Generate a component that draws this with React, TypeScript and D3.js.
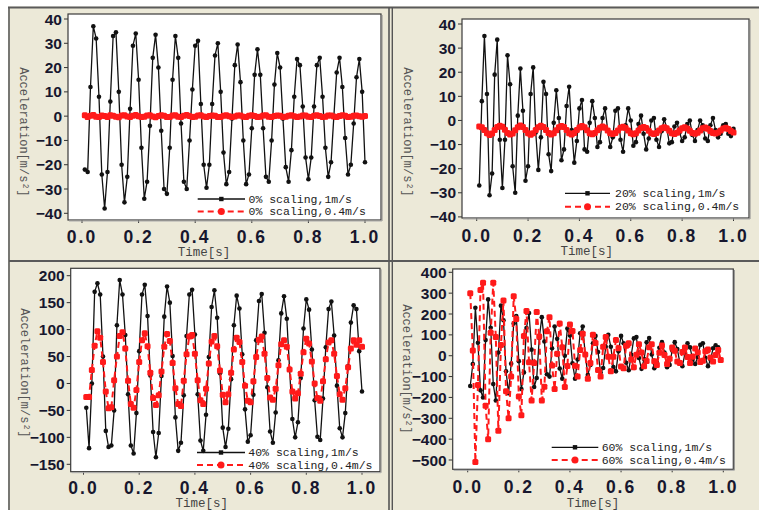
import React from 'react';
import * as d3 from 'd3';

// ---------- data (sampled every 0.01 s, first sample at t = 0.01 s) ----------
const P1_BLACK = [
  -22, -23, 12, 37, 32, 8, -24, -38, -23, 6,
  33, 34.5, 10, -20, -35.5, -25, 3, 29, 34, 15,
  -13, -34, -27, -4, 24, 33.5, 20, -6, -30, -32,
  -13, 15, 33, 24, -3, -27, -30, -10, 11, 29,
  31, 5, -20, -29.5, -20, 5, 25, 30, 10, -15,
  -28, -23, -1, 21, 29.5, 14, -10, -28, -24, -5,
  17, 27.5, 17, -5, -25, -27, -10, 13, 26, 20,
  -1, -21, -27, -14, 8, 23.5, 21, 4, -17, -26,
  -17, 4, 21, 24, 8, -13, -25, -19, 0, 18,
  24, 12, -9, -24, -20, -3, 16, 23.5, 10, -19,
];
const P1_RED = [
  0.4, -0.3, 0.2, 0.5, -0.2, -0.4, 0.3, 0.1, -0.3, 0.4,
  0.2, -0.2, -0.5, 0.3, 0.4, -0.1, -0.3, 0.2, 0.5, 0,
  -0.4, -0.2, 0.3, 0.4, -0.1, -0.5, 0.1, 0.4, 0.2, -0.3,
  -0.3, 0.3, 0.4, -0.2, -0.4, 0.2, 0.5, 0.1, -0.3, -0.2,
  0.3, 0.4, -0.1, -0.4, 0.1, 0.3, 0.2, -0.3, -0.3, 0.2,
  0.4, 0, -0.4, -0.1, 0.3, 0.3, -0.2, -0.4, 0.2, 0.4,
  0.1, -0.3, -0.2, 0.3, 0.4, -0.2, -0.3, 0.1, 0.3, 0.2,
  -0.3, -0.2, 0.2, 0.4, 0, -0.4, -0.1, 0.3, 0.3, -0.2,
  -0.3, 0.2, 0.4, 0.1, -0.3, -0.2, 0.3, 0.3, -0.1, -0.4,
  0.1, 0.4, 0.2, -0.3, -0.2, 0.2, 0.3, 0, -0.2, 0.1,
];
const P2_BLACK = [
  -27, 8, 35, 11, -31, -22, 19, 33.5, -8, -28,
  -8, 27, 15, -19, -30, 2, 21.5, 4, -25, -19,
  11, 22, -5, -20.5, -7, 16, 11, -14, -21, -1,
  12.5, 1, -16.5, -12, 6, 14, -4, -17.5, -8.5, 5,
  8.5, -12, -13, -1, 8, 1, -11, -9, 1, 5,
  -4, -11, -7, 4, 5, -8, -13, -2, 5, 0,
  -10.5, -9, -1.5, 2, -5.5, -12, -7.5, 0, 1, -8,
  -11, -4.5, 0.5, -3, -9.5, -9, -2.5, -1, -5, -8.5,
  -7, -1.5, 0, -6, -8.5, -4, 0, -2, -7.5, -8.5,
  -2, 1, -4, -7, -5.5, -2, -1.5, -5.5, -6.5, -3.5,
];
const P2_RED = [
  -2.5, -2.8, -4, -5.3, -6, -5.4, -4, -2.7, -2.2, -2.6,
  -3.9, -5.2, -5.8, -5.4, -4.1, -2.8, -2.1, -2.7, -4, -5.3,
  -5.9, -5.3, -4, -2.8, -2.2, -2.7, -4, -5.2, -5.8, -5.3,
  -4.1, -2.8, -2.3, -2.7, -4, -5.3, -5.8, -5.2, -4, -2.9,
  -2.3, -2.8, -4.1, -5.3, -5.7, -5.2, -4.1, -3, -2.5, -3,
  -4.2, -5.3, -5.6, -5.2, -4.2, -3, -2.6, -3.1, -4.2, -5.3,
  -5.7, -5.3, -4.2, -3.1, -2.7, -3.1, -4.3, -5.3, -5.6, -5.2,
  -4.2, -3.2, -2.8, -3.2, -4.3, -5.3, -5.6, -5.1, -4.2, -3.2,
  -2.8, -3.3, -4.3, -5.2, -5.5, -5.1, -4.2, -3.2, -2.9, -3.4,
  -4.4, -5.2, -5.4, -5, -4.2, -3.3, -3, -3.5, -4.4, -5,
];
const P3_BLACK = [
  -45, -120, 0, 170, 186, 165, 50, -88, -118, -115,
  -50, 108, 192, 165, 90, -20, -115, -130, -55, 60,
  165, 183, 125, 15, -90, -137, -92, 14, 124, 180,
  150, 51, -63, -125, -110, -22, 88, 165, 174, 91,
  -20, -106, -125, -58, 49, 142, 173, 122, 19, -82,
  -118, -84, 8, 108, 163, 139, 54, -48, -108, -96,
  -21, 80, 153, 166, 94, -7, -89, -110, -54, 43,
  130, 162, 120, 27, -66, -100, -72, 10, 102, 156,
  137, 63, -31, -99, -105, -28, 67, 138, 152, 89,
  -4, -83, -100, -55, 32, 113, 145, 138, 60, -15,
];
const P3_RED = [
  -25, -25, 25, 70, 97, 85, 40, -15, -46, -44,
  6, 50, 88, 95, 65, 5, -38, -45, -12, 40,
  80, 93, 69, 20, -27, -40, -22, 22, 68, 92,
  79, 38, -9, -38, -42, 5, 54, 87, 90, 55,
  6, -31, -38, -10, 37, 78, 88, 69, 24, -21,
  -35, -20, 20, 63, 85, 77, 40, -4, -32, -35,
  4, 49, 81, 87, 55, 10, -26, -30, -10, 34,
  73, 80, 68, 26, -15, -28, -18, 18, 58, 83,
  74, 41, 0, -27, -32, 4, 45, 76, 80, 55,
  14, -20, -30, -9, 30, 65, 80, 72, 80, 68,
];
const P4_BLACK = [
  -145, -40, 230, 62, -166, -200, 75, 270, 134, -136,
  -215, 15, 240, 170, -75, -180, -38, 155, 190, -26,
  -160, -80, 133, 205, 29, -150, -107, 85, 185, 68,
  -89, -100, 36, 140, 81, -61, -110, 0, 130, 97,
  -36, -110, -18, 108, 140, 4, -92, -44, 60, 95,
  18, -80, -59, 43, 100, 43, -54, -75, 21, 95,
  60, -34, -70, 4, 83, 90, -11, -63, -16, 64,
  85, 6, -60, -32, 38, 65, 15, -55, -44, 25,
  65, 32, -33, -50, 11, 60, 40, -18, -40, -6,
  52, 60, -10, -50, -19, 36, 50, 40,
];
const P4_RED = [
  300, 25, -510, -140, 315, 350, -240, -400, 110, 350,
  90, -360, 51, 265, -170, -300, -100, 285, 176, -195,
  -285, 94, 215, -31, -215, -35, 210, 92, -215, -149,
  117, 185, -47, -160, 9, 155, 41, -150, -49, 150,
  119, -48, -100, 27, 105, 6, -110, -35, 100, 61,
  -69, -100, 43, 90, -5, -75, -5, 75, 36, -52,
  -60, 48, 60, -18, -55, 5, 55, 16, -50, -25,
  41, 55, -26, -45, 14, 49, 4, -40, -14, 40,
  24, -28, -35, 18, 40, -6, -35, -5, 35, 15,
  -30, -24, 22, 30, -8, -28, 4, 28, -20,
];

const X_TICKS = [0, 0.2, 0.4, 0.6, 0.8, 1.0];
const X_TICK_LABELS = ['0.0', '0.2', '0.4', '0.6', '0.8', '1.0'];
const P1_Y_TICKS = [-40, -30, -20, -10, 0, 10, 20, 30, 40];
const P2_Y_TICKS = [-40, -30, -20, -10, 0, 10, 20, 30, 40];
const P3_Y_TICKS = [-150, -100, -50, 0, 50, 100, 150, 200];
const P4_Y_TICKS = [-500, -400, -300, -200, -100, 0, 100, 200, 300, 400];
const LEGEND_P1 = ['0% scaling,1m/s', '0% scaling,0.4m/s'];
const LEGEND_P2 = ['20% scaling,1m/s', '20% scaling,0.4m/s'];
const LEGEND_P3 = ['40% scaling,1m/s', '40% scaling,0.4m/s'];
const LEGEND_P4 = ['60% scaling,1m/s', '60% scaling,0.4m/s'];
const Y_TITLE = 'Acceleration[m/s²]';
const X_TITLE = 'Time[s]';

const timeOf = (i: number) => (i + 1) / 100;

// ---------- layout ----------
const PANELS = [
  {
    box: [68, 14, 381, 220], xr: [82, 365], yd: [-40, 40], yr: [213.3, 19],
    yTicks: P1_Y_TICKS, black: P1_BLACK, red: P1_RED, legend: LEGEND_P1,
    xLabelBase: 242.5, yTitle: [24, 132], xTitle: [204, 256],
    leg: { x0: 197.7, x1: 245, tx: 248.5, y1: 199, y2: 211.5 },
  },
  {
    box: [462, 19, 749, 218], xr: [476.7, 733.5], yd: [-40, 40], yr: [216.9, 24],
    yTicks: P2_Y_TICKS, black: P2_BLACK, red: P2_RED, legend: LEGEND_P2,
    xLabelBase: 242, yTitle: [408, 132], xTitle: [586.7, 254.5],
    leg: { x0: 565, x1: 610, tx: 615, y1: 193.3, y2: 206.7 },
  },
  {
    box: [70.7, 268.3, 380, 471.7], xr: [83.5, 362], yd: [-150, 200], yr: [464.3, 275.7],
    yTicks: P3_Y_TICKS, black: P3_BLACK, red: P3_RED, legend: LEGEND_P3,
    xLabelBase: 494, yTitle: [25, 373], xTitle: [201.7, 506.5],
    leg: { x0: 197, x1: 245, tx: 248.3, y1: 452.5, y2: 465 },
  },
  {
    box: [452.7, 269, 733.3, 469.3], xr: [467.7, 723.3], yd: [-500, 400], yr: [460, 272.3],
    yTicks: P4_Y_TICKS, black: P4_BLACK, red: P4_RED, legend: LEGEND_P4,
    xLabelBase: 493, yTitle: [407, 369], xTitle: [593, 506.5],
    leg: { x0: 551.7, x1: 598.3, tx: 601.7, y1: 447.3, y2: 460 },
  },
];

const TICK_FONT = "'Liberation Sans', Arial, sans-serif";
const MONO_FONT = "'Liberation Mono', 'DejaVu Sans Mono', monospace";
const TICK_COLOR = '#17172e';
const RED = '#ff1a1a';

function fmt(v: number) {
  return v < 0 ? '\u2212' + Math.abs(v) : String(v);
}

function Panel({ p }: { p: any }) {
  const [bx0, by0, bx1, by1] = p.box;
  const x = d3.scaleLinear().domain([0, 1]).range(p.xr);
  const y = d3.scaleLinear().domain(p.yd).range(p.yr);
  const line = d3
    .line<number>()
    .x((_, i) => x(timeOf(i)))
    .y((d) => y(d));
  const rs = 6;
  return (
    <g>
      <rect x={bx0} y={by0} width={bx1 - bx0} height={by1 - by0} fill="#fff" />
      {/* y ticks */}
      {p.yTicks.map((v: number) => (
        <g key={'y' + v}>
          <line x1={bx0 - 4} x2={bx0} y1={y(v)} y2={y(v)} stroke="#333" strokeWidth={1} />
          <text
            x={bx0 - 6}
            y={y(v)}
            dy="0.36em"
            textAnchor="end"
            fontFamily={TICK_FONT}
            fontWeight="bold"
            fontSize={15.5}
            fill={TICK_COLOR}
          >
            {fmt(v)}
          </text>
        </g>
      ))}
      {/* x ticks */}
      {X_TICKS.map((v, i) => (
        <g key={'x' + v}>
          <line x1={x(v)} x2={x(v)} y1={by1} y2={by1 + 3} stroke="#333" strokeWidth={1} />
          <text
            x={x(v)}
            y={p.xLabelBase}
            textAnchor="middle"
            fontFamily={TICK_FONT}
            fontWeight="bold"
            fontSize={17.5}
            letterSpacing={2}
            fill={TICK_COLOR}
          >
            {X_TICK_LABELS[i]}
          </text>
        </g>
      ))}
      {/* black series */}
      <path d={line(p.black) || ''} fill="none" stroke="#111" strokeWidth={1.3} />
      {p.black.map((d: number, i: number) => (
        <circle key={'b' + i} cx={x(timeOf(i))} cy={y(d)} r={2.3} fill="#111" />
      ))}
      {/* red series */}
      <path
        d={line(p.red) || ''}
        fill="none"
        stroke={RED}
        strokeWidth={2}
        strokeDasharray="6,4"
      />
      {p.red.map((d: number, i: number) => (
        <rect
          key={'r' + i}
          x={x(timeOf(i)) - rs / 2}
          y={y(d) - rs / 2}
          width={rs}
          height={rs}
          rx={1.5}
          fill={RED}
        />
      ))}
      {/* box border */}
      <rect
        x={bx0}
        y={by0}
        width={bx1 - bx0}
        height={by1 - by0}
        fill="none"
        stroke="#3a3a3a"
        strokeWidth={1.2}
      />
      <line x1={bx1 + 1} x2={bx1 + 1} y1={by0 + 1} y2={by1 + 1} stroke="#888" strokeWidth={1} />
      <line x1={bx0 + 1} x2={bx1 + 1} y1={by1 + 1} y2={by1 + 1} stroke="#aaa" strokeWidth={1} />
      {/* legend */}
      <line x1={p.leg.x0} x2={p.leg.x1} y1={p.leg.y1} y2={p.leg.y1} stroke="#111" strokeWidth={1.3} />
      <rect
        x={(p.leg.x0 + p.leg.x1) / 2 - 2.2}
        y={p.leg.y1 - 2.2}
        width={4.4}
        height={4.4}
        fill="#111"
      />
      <line
        x1={p.leg.x0}
        x2={p.leg.x1}
        y1={p.leg.y2}
        y2={p.leg.y2}
        stroke={RED}
        strokeWidth={2}
        strokeDasharray="6,4"
      />
      <circle cx={(p.leg.x0 + p.leg.x1) / 2} cy={p.leg.y2} r={3.5} fill={RED} />
      <text x={p.leg.tx} y={p.leg.y1} dy="0.33em" fontFamily={MONO_FONT} fontSize={11.5} fill="#222">
        {p.legend[0]}
      </text>
      <text x={p.leg.tx} y={p.leg.y2} dy="0.33em" fontFamily={MONO_FONT} fontSize={11.5} fill="#222">
        {p.legend[1]}
      </text>
      {/* axis titles */}
      <text
        transform={`translate(${p.yTitle[0]},${p.yTitle[1]}) rotate(90)`}
        textAnchor="middle"
        dy="0.35em"
        fontFamily={MONO_FONT}
        fontSize={12}
        fill="#555"
      >
        {Y_TITLE}
      </text>
      <text
        x={p.xTitle[0]}
        y={p.xTitle[1]}
        textAnchor="middle"
        fontFamily={MONO_FONT}
        fontSize={12.5}
        fill="#444"
      >
        {X_TITLE}
      </text>
    </g>
  );
}

export default function App() {
  return (
    <svg
      width={759}
      height={510}
      style={{ position: 'absolute', left: 0, top: 0, display: 'block' }}
    >
      <rect x={0} y={0} width={759} height={510} fill="#ECE9D8" />
      <rect x={0} y={0} width={759} height={6.5} fill="#fff" />
      <rect x={0} y={0} width={8} height={510} fill="#fff" />
      {/* frames */}
      <line x1={8} y1={7.5} x2={759} y2={7.5} stroke="#5a5a5a" strokeWidth={2} />
      <line x1={9} y1={7} x2={9} y2={510} stroke="#5a5a5a" strokeWidth={1.6} />
      <line x1={389} y1={7} x2={389} y2={510} stroke="#555" strokeWidth={1.6} />
      <line x1={392.3} y1={7} x2={392.3} y2={510} stroke="#555" strokeWidth={1.4} />
      <line x1={9} y1={261} x2={759} y2={261} stroke="#5a5a5a" strokeWidth={2} />
      {PANELS.map((p, i) => (
        <Panel key={i} p={p} />
      ))}
    </svg>
  );
}
